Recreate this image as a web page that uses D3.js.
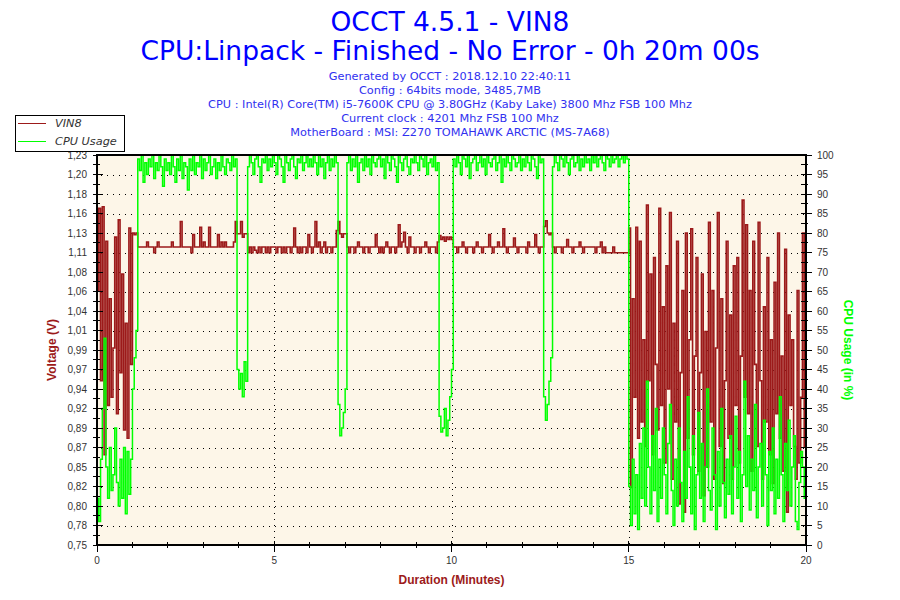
<!DOCTYPE html>
<html>
<head>
<meta charset="utf-8">
<script src="https://cdn.jsdelivr.net/npm/d3@7"></script>
<style>
  body { margin: 0; background: #fff; }
</style>
</head>
<body>
<svg id="chart" width="900" height="600"></svg>
<script>
// one sample every 3 seconds, 0 .. 1200 s
const STEP_SEC = 3;

const vin8 = [
  1.06, 1.16, 0.95, 1.162, 0.86, 1.12, 0.92, 1.05, 0.93, 0.99, 1.125, 0.91, 1.146, 0.96, 1.08, 0.89, 1.02, 0.88, 1.136, 0.97,
  1.13, 1.128, 1.13, 1.113, 1.113, 1.113, 1.113, 1.113, 1.119, 1.113, 1.113, 1.113, 1.106, 1.113, 1.119, 1.113, 1.113, 1.113, 1.113, 1.113,
  1.113, 1.113, 1.119, 1.113, 1.113, 1.113, 1.113, 1.144, 1.113, 1.113, 1.113, 1.113, 1.113, 1.106, 1.128, 1.113, 1.113, 1.113, 1.137, 1.113,
  1.119, 1.113, 1.113, 1.137, 1.113, 1.113, 1.113, 1.113, 1.128, 1.113, 1.119, 1.113, 1.119, 1.113, 1.113, 1.113, 1.113, 1.119, 1.144, 1.129,
  1.129, 1.144, 1.125, 1.129, 1.129, 1.106, 1.113, 1.106, 1.113, 1.109, 1.106, 1.113, 1.106, 1.113, 1.113, 1.106, 1.113, 1.106, 1.113, 1.113,
  1.113, 1.106, 1.113, 1.113, 1.106, 1.113, 1.106, 1.113, 1.113, 1.106, 1.113, 1.136, 1.113, 1.106, 1.113, 1.106, 1.113, 1.113, 1.106, 1.128,
  1.113, 1.106, 1.113, 1.144, 1.113, 1.119, 1.106, 1.113, 1.119, 1.106, 1.113, 1.113, 1.106, 1.113, 1.113, 1.133, 1.144, 1.129, 1.125, 1.129,
  1.129, 1.113, 1.106, 1.113, 1.113, 1.106, 1.113, 1.119, 1.113, 1.113, 1.106, 1.113, 1.113, 1.106, 1.113, 1.113, 1.113, 1.128, 1.113, 1.106,
  1.113, 1.106, 1.113, 1.119, 1.113, 1.106, 1.113, 1.113, 1.106, 1.113, 1.140, 1.113, 1.119, 1.131, 1.113, 1.106, 1.125, 1.113, 1.113, 1.106,
  1.113, 1.113, 1.106, 1.113, 1.113, 1.119, 1.113, 1.106, 1.113, 1.113, 1.113, 1.106, 1.119, 1.127, 1.122, 1.125, 1.120, 1.125, 1.122, 1.125,
  1.122, 1.113, 1.113, 1.106, 1.113, 1.113, 1.119, 1.113, 1.106, 1.113, 1.113, 1.113, 1.106, 1.113, 1.119, 1.113, 1.113, 1.106, 1.113, 1.113,
  1.113, 1.128, 1.113, 1.106, 1.113, 1.113, 1.119, 1.113, 1.113, 1.135, 1.113, 1.106, 1.113, 1.113, 1.113, 1.124, 1.113, 1.106, 1.113, 1.113,
  1.113, 1.113, 1.106, 1.119, 1.113, 1.113, 1.113, 1.128, 1.113, 1.106, 1.113, 1.113, 1.138, 1.145, 1.130, 1.128, 1.130, 1.113, 1.106, 1.113,
  1.113, 1.113, 1.106, 1.113, 1.113, 1.122, 1.113, 1.113, 1.106, 1.113, 1.113, 1.113, 1.119, 1.113, 1.106, 1.113, 1.113, 1.113, 1.113, 1.113,
  1.113, 1.106, 1.113, 1.113, 1.119, 1.106, 1.113, 1.106, 1.106, 1.106, 1.106, 1.113, 1.106, 1.106, 1.106, 1.106, 1.106, 1.106, 1.106, 1.106,
  1.136, 0.82, 1.05, 0.93, 1.137, 0.88, 1.12, 0.90, 1.00, 0.87, 1.164, 0.95, 1.08, 0.86, 1.10, 0.97, 0.89, 1.16, 0.92, 1.04,
  0.85, 1.09, 0.94, 1.155, 0.83, 1.02, 0.90, 1.12, 0.80, 0.96, 1.06, 0.79, 1.13, 0.88, 1.00, 1.135, 0.86, 0.98, 1.10, 0.84,
  0.96, 1.08, 0.81, 1.01, 0.845, 1.143, 0.90, 1.06, 0.83, 0.99, 1.155, 0.87, 1.05, 0.825, 0.95, 1.12, 0.88, 1.03, 0.83, 1.09,
  0.92, 1.10, 0.85, 0.98, 1.17, 0.93, 1.14, 0.91, 1.06, 0.84, 1.12, 0.97, 0.87, 1.143, 0.95, 0.83, 1.04, 0.90, 1.10, 0.86,
  1.00, 0.825, 1.07, 0.91, 1.13, 0.88, 0.98, 0.84, 1.11, 0.79, 1.03, 0.92, 1.00, 0.87, 0.83, 1.06, 0.85, 0.93, 1.13, 0.87,
  1.128
];

const cpuUsage = [
  12, 6, 22, 35, 53, 20, 12, 25, 14, 18, 30, 16, 10, 22, 12, 25, 8, 24, 13, 22,
  40, 48, 55, 99, 96, 100, 93, 98, 95, 99, 97, 100, 94, 98, 96, 100, 97, 92, 99, 96,
  98, 95, 100, 97, 93, 99, 96, 100, 94, 98, 97, 91, 99, 96, 100, 95, 98, 97, 100, 94,
  99, 96, 98, 100, 95, 97, 99, 94, 98, 96, 100, 97, 95, 99, 98, 96, 100, 97, 99, 45,
  40, 44, 38, 47, 42, 97, 100, 98, 95, 99, 100, 97, 93, 99, 98, 100, 96, 99, 97, 100,
  98, 95, 100, 99, 97, 93, 100, 98, 96, 99, 100, 97, 94, 99, 98, 100, 96, 98, 100, 97,
  99, 97, 100, 98, 95, 100, 97, 99, 94, 98, 100, 96, 99, 97, 100, 98, 36, 28, 30, 34,
  40, 98, 100, 96, 99, 97, 100, 93, 98, 99, 96, 100, 97, 99, 95, 100, 98, 97, 99, 100,
  97, 99, 94, 100, 98, 96, 100, 99, 97, 93, 100, 98, 96, 99, 100, 97, 95, 99, 98, 100,
  98, 96, 100, 99, 97, 100, 95, 98, 99, 97, 100, 96, 98, 33, 29, 30, 35, 28, 32, 38,
  45, 99, 97, 100, 98, 95, 100, 99, 97, 100, 94, 98, 99, 100, 96, 98, 100, 97, 99, 95,
  100, 98, 97, 99, 100, 96, 98, 100, 93, 99, 97, 100, 98, 96, 100, 99, 97, 98, 100, 96,
  99, 97, 100, 98, 96, 100, 99, 97, 94, 100, 98, 99, 38, 32, 36, 42, 48, 97, 100, 98,
  96, 100, 99, 97, 100, 98, 95, 99, 100, 97, 98, 100, 96, 99, 97, 100, 98, 99, 96, 100,
  98, 100, 97, 99, 100, 98, 96, 100, 99, 97, 100, 98, 99, 100, 97, 99, 100, 98, 100, 99,
  15, 5, 22, 8, 18, 4, 26, 12, 30, 10, 42, 20, 8, 28, 14, 35, 6, 22, 12, 30,
  18, 8, 26, 36, 14, 5, 22, 10, 30, 16, 6, 24, 12, 38, 20, 8, 28, 4, 18, 34,
  12, 26, 6, 20, 40, 14, 9, 30, 18, 4, 24, 10, 35, 16, 7, 22, 13, 28, 8, 20,
  33, 12, 24, 6, 18, 42, 15, 28, 9, 22, 14, 36, 7, 20, 26, 10, 32, 18, 5, 24,
  14, 30, 8, 22, 12, 38, 18, 6, 26, 14, 32, 10, 20, 28, 6, 4, 16, 24, 20, 12,
  22
];

const minuteLabels = [0, 5, 10, 15, 20];
const minuteMinorTicks = [1, 2, 3, 4, 6, 7, 8, 9, 11, 12, 13, 14, 16, 17, 18, 19];
const cpuTicks = [0, 5, 10, 15, 20, 25, 30, 35, 40, 45, 50, 55, 60, 65, 70, 75, 80, 85, 90, 95, 100];
const voltageLabels = ['0,75', '0,78', '0,80', '0,82', '0,85', '0,87', '0,89', '0,92', '0,94', '0,97', '0,99',
  '1,01', '1,04', '1,06', '1,08', '1,11', '1,13', '1,16', '1,18', '1,20', '1,23'];
const voltageDomain = [0.75, 1.225];

const titleLines = ['OCCT 4.5.1 - VIN8', 'CPU:Linpack - Finished - No Error - 0h 20m 00s'];
const infoLines = [
  'Generated by OCCT : 2018.12.10 22:40:11',
  'Config : 64bits mode, 3485,7MB',
  'CPU : Intel(R) Core(TM) i5-7600K CPU @ 3.80GHz (Kaby Lake) 3800 Mhz FSB 100 Mhz',
  'Current clock : 4201 Mhz FSB 100 Mhz',
  'MotherBoard : MSI: Z270 TOMAHAWK ARCTIC (MS-7A68)'
];
const legendItems = [
  { name: 'VIN8', color: '#9c1a1a' },
  { name: 'CPU Usage', color: '#00ff00' }
];

const RED = '#9c1a1a';
const GREEN = '#00ff00';
const TICK_FONT = '"Liberation Sans", Arial, sans-serif';

const svg = d3.select('#chart');
const plot = { left: 97, right: 806, top: 155, bottom: 545 };

const x = d3.scaleLinear().domain([0, 20]).range([plot.left, plot.right]);
const yVolt = d3.scaleLinear().domain(voltageDomain).range([plot.bottom, plot.top]);
const yCpu = d3.scaleLinear().domain([0, 100]).range([plot.bottom, plot.top]);

// titles
svg.selectAll('.title')
  .data(titleLines)
  .enter()
  .append('text')
  .attr('class', 'title')
  .attr('x', 450)
  .attr('y', (d, i) => 31 + i * 29)
  .attr('text-anchor', 'middle')
  .attr('font-family', '"DejaVu Sans", Verdana, sans-serif')
  .attr('font-size', '26.5px')
  .attr('fill', '#0000ff')
  .text((d) => d);

svg.selectAll('.info')
  .data(infoLines)
  .enter()
  .append('text')
  .attr('class', 'info')
  .attr('x', 450)
  .attr('y', (d, i) => 80 + i * 13.9)
  .attr('text-anchor', 'middle')
  .attr('font-family', '"DejaVu Sans", Verdana, sans-serif')
  .attr('font-size', '11.3px')
  .attr('fill', '#3030f0')
  .text((d) => d);

// plot background
svg.append('rect')
  .attr('x', plot.left)
  .attr('y', plot.top)
  .attr('width', plot.right - plot.left)
  .attr('height', plot.bottom - plot.top)
  .attr('fill', '#fdf6e8');

// dotted grid
const grid = svg.append('g')
  .attr('stroke', '#000')
  .attr('stroke-width', 1)
  .attr('stroke-dasharray', '1,5')
  .attr('shape-rendering', 'crispEdges');

grid.selectAll('.hgrid')
  .data(cpuTicks.slice(1, -1))
  .enter()
  .append('line')
  .attr('x1', plot.left + 4)
  .attr('x2', plot.right)
  .attr('y1', (d) => Math.round(yCpu(d)) + 0.5)
  .attr('y2', (d) => Math.round(yCpu(d)) + 0.5);

grid.selectAll('.vgrid')
  .data(minuteLabels.slice(1, -1))
  .enter()
  .append('line')
  .attr('x1', (d) => Math.round(x(d)) + 0.5)
  .attr('x2', (d) => Math.round(x(d)) + 0.5)
  .attr('y1', plot.top + 4)
  .attr('y2', plot.bottom);

// data lines
svg.append('clipPath').attr('id', 'plot-clip')
  .append('rect')
  .attr('x', plot.left)
  .attr('y', plot.top)
  .attr('width', plot.right - plot.left)
  .attr('height', plot.bottom - plot.top);

const minuteOf = (i) => (i * STEP_SEC) / 60;

const voltLine = d3.line()
  .x((d, i) => x(minuteOf(i)))
  .y((d) => yVolt(d))
  .curve(d3.curveStepAfter);

const cpuLine = d3.line()
  .x((d, i) => x(minuteOf(i)))
  .y((d) => yCpu(d))
  .curve(d3.curveStepAfter);

const dataLayer = svg.append('g').attr('clip-path', 'url(#plot-clip)');

dataLayer.append('path')
  .datum(vin8)
  .attr('d', voltLine)
  .attr('fill', 'none')
  .attr('stroke', RED)
  .attr('stroke-width', 1.6)
  .attr('stroke-linejoin', 'miter');

dataLayer.append('path')
  .datum(cpuUsage)
  .attr('d', cpuLine)
  .attr('fill', 'none')
  .attr('stroke', GREEN)
  .attr('stroke-width', 1.5)
  .attr('stroke-linejoin', 'miter');

// frame
const frame = svg.append('g')
  .attr('stroke', '#000')
  .attr('stroke-width', 1)
  .attr('shape-rendering', 'crispEdges');

frame.append('rect')
  .attr('x', plot.left)
  .attr('y', plot.top)
  .attr('width', plot.right - plot.left)
  .attr('height', plot.bottom - plot.top)
  .attr('fill', 'none')
  .attr('stroke-width', 1.5);

// left axis ticks (major at labels, minor between)
frame.selectAll('.lmajor')
  .data(cpuTicks)
  .enter()
  .append('line')
  .attr('x1', plot.left - 4)
  .attr('x2', plot.left + 6)
  .attr('y1', (d) => yCpu(d))
  .attr('y2', (d) => yCpu(d));

frame.selectAll('.lminor')
  .data(cpuTicks.slice(1))
  .enter()
  .append('line')
  .attr('x1', plot.left - 4)
  .attr('x2', plot.left + 3)
  .attr('y1', (d) => yCpu(d - 2.5))
  .attr('y2', (d) => yCpu(d - 2.5));

// right axis ticks
frame.selectAll('.rmajor')
  .data(cpuTicks)
  .enter()
  .append('line')
  .attr('x1', plot.right - 5)
  .attr('x2', plot.right + 6)
  .attr('y1', (d) => yCpu(d))
  .attr('y2', (d) => yCpu(d));

frame.selectAll('.rminor')
  .data(cpuTicks.slice(1))
  .enter()
  .append('line')
  .attr('x1', plot.right - 5)
  .attr('x2', plot.right + 2)
  .attr('y1', (d) => yCpu(d - 2.5))
  .attr('y2', (d) => yCpu(d - 2.5));

// bottom axis ticks
frame.selectAll('.bmajor')
  .data(minuteLabels)
  .enter()
  .append('line')
  .attr('x1', (d) => x(d))
  .attr('x2', (d) => x(d))
  .attr('y1', plot.bottom - 4)
  .attr('y2', plot.bottom + 7);

frame.selectAll('.bminor')
  .data(minuteMinorTicks)
  .enter()
  .append('line')
  .attr('x1', (d) => x(d))
  .attr('x2', (d) => x(d))
  .attr('y1', plot.bottom - 3)
  .attr('y2', plot.bottom + 3);

// tick labels
svg.selectAll('.vlabel')
  .data(voltageLabels)
  .enter()
  .append('text')
  .attr('x', plot.left - 10)
  .attr('y', (d, i) => yCpu(cpuTicks[i]))
  .attr('dy', '0.35em')
  .attr('text-anchor', 'end')
  .attr('font-family', TICK_FONT)
  .attr('font-size', '10px')
  .attr('fill', '#333')
  .text((d) => d);

svg.selectAll('.clabel')
  .data(cpuTicks)
  .enter()
  .append('text')
  .attr('x', plot.right + 11)
  .attr('y', (d) => yCpu(d))
  .attr('dy', '0.35em')
  .attr('font-family', TICK_FONT)
  .attr('font-size', '10px')
  .attr('fill', '#333')
  .text((d) => d);

svg.selectAll('.mlabel')
  .data(minuteLabels)
  .enter()
  .append('text')
  .attr('x', (d) => x(d))
  .attr('y', plot.bottom + 19)
  .attr('text-anchor', 'middle')
  .attr('font-family', TICK_FONT)
  .attr('font-size', '10px')
  .attr('fill', '#333')
  .text((d) => d);

// axis titles
svg.append('text')
  .attr('transform', 'translate(56, 350) rotate(-90)')
  .attr('text-anchor', 'middle')
  .attr('font-family', TICK_FONT)
  .attr('font-weight', 'bold')
  .attr('font-size', '12px')
  .attr('fill', RED)
  .text('Voltage (V)');

svg.append('text')
  .attr('transform', 'translate(844, 350) rotate(90)')
  .attr('text-anchor', 'middle')
  .attr('font-family', TICK_FONT)
  .attr('font-weight', 'bold')
  .attr('font-size', '12px')
  .attr('fill', GREEN)
  .text('CPU Usage (in %)');

svg.append('text')
  .attr('x', x(10))
  .attr('y', 584)
  .attr('text-anchor', 'middle')
  .attr('font-family', TICK_FONT)
  .attr('font-weight', 'bold')
  .attr('font-size', '12px')
  .attr('fill', RED)
  .text('Duration (Minutes)');

// legend
const legend = svg.append('g').attr('transform', 'translate(15, 115)');
legend.append('rect')
  .attr('width', 109)
  .attr('height', 36)
  .attr('fill', '#fff')
  .attr('stroke', '#000')
  .attr('stroke-width', 1)
  .attr('shape-rendering', 'crispEdges');

const legendRow = legend.selectAll('.item')
  .data(legendItems)
  .enter()
  .append('g')
  .attr('transform', (d, i) => `translate(0, ${8.5 + i * 18})`);

legendRow.append('line')
  .attr('x1', 3)
  .attr('x2', 31)
  .attr('stroke', (d) => d.color)
  .attr('stroke-width', 1)
  .attr('shape-rendering', 'crispEdges');

legendRow.append('text')
  .attr('x', 40)
  .attr('dy', '0.35em')
  .attr('font-family', '"DejaVu Sans", Verdana, sans-serif')
  .attr('font-style', 'italic')
  .attr('font-size', '11.3px')
  .attr('fill', '#333')
  .text((d) => d.name);
</script>
</body>
</html>
